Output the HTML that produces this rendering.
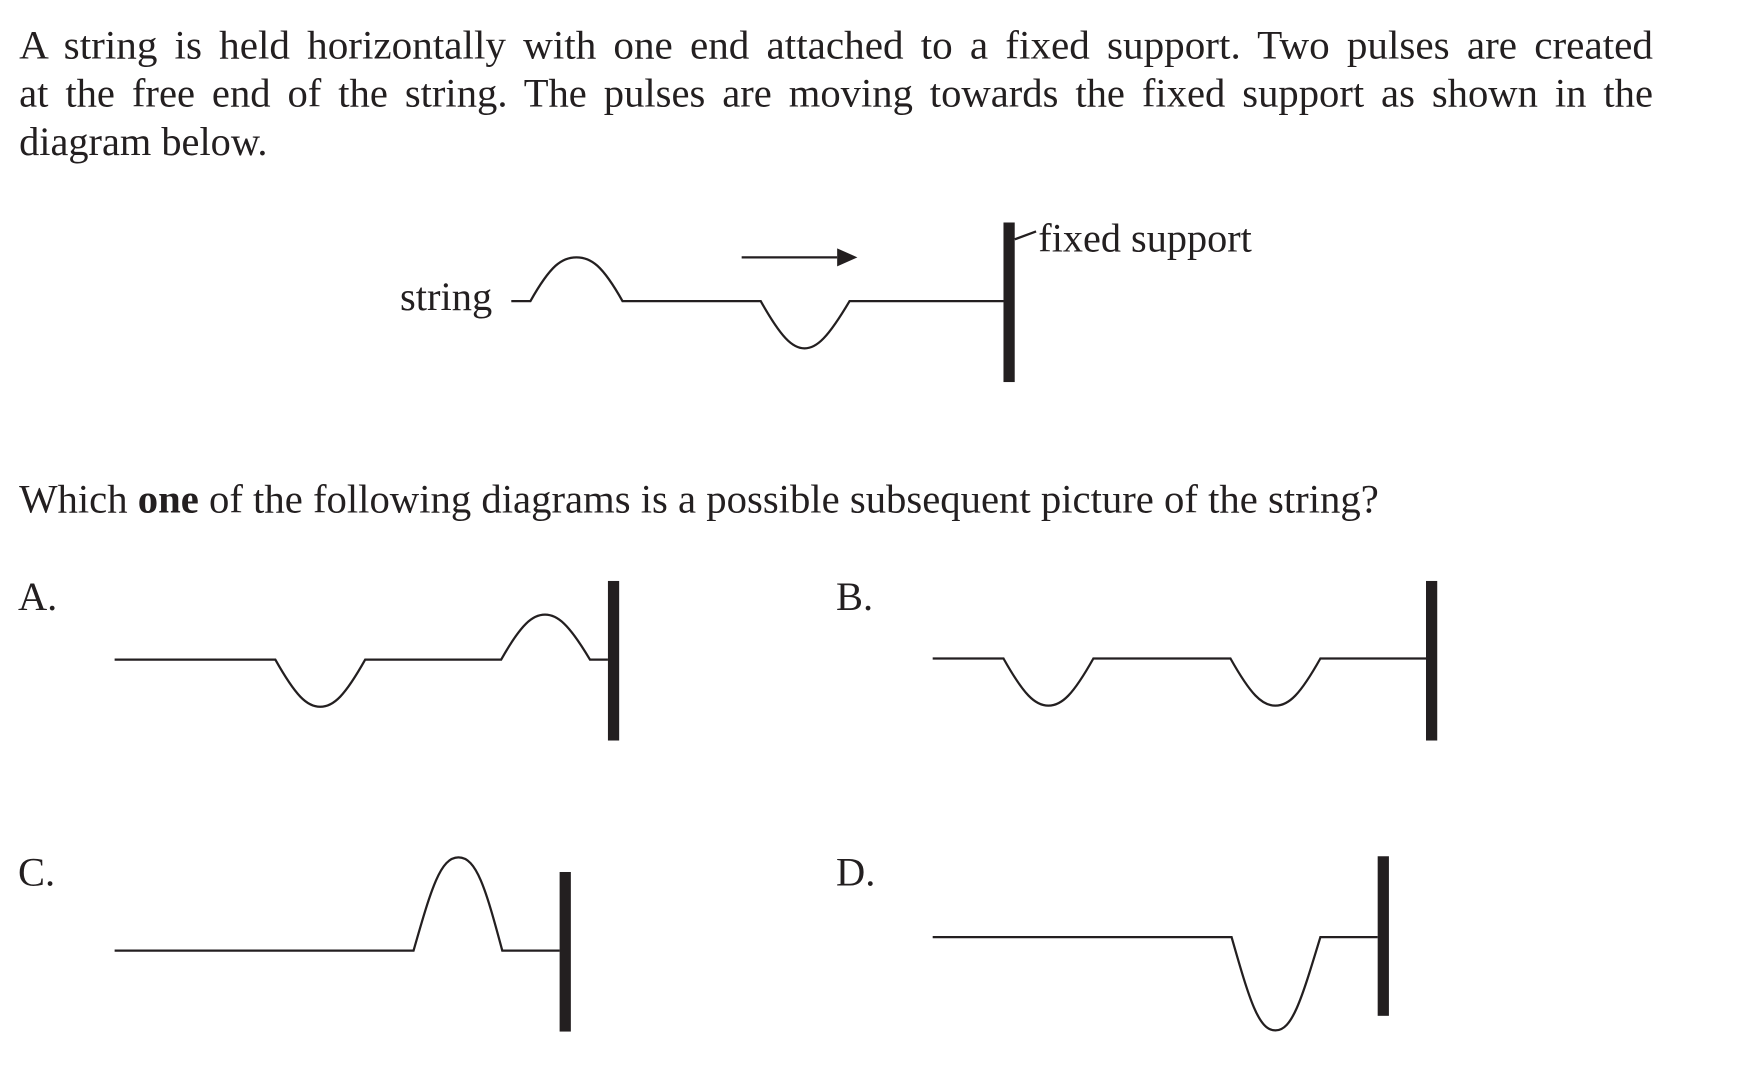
<!DOCTYPE html>
<html><head><meta charset="utf-8"><style>
html,body{margin:0;padding:0;background:#fff;}
svg{display:block;}
text{font-family:"Liberation Serif",serif;fill:#231f20;}
</style></head><body>
<svg width="1753" height="1081" viewBox="0 0 1560 962" preserveAspectRatio="none" xmlns="http://www.w3.org/2000/svg">
<g font-size="36">
<text x="17" y="52" textLength="1454" lengthAdjust="spacingAndGlyphs" word-spacing="6">A string is held horizontally with one end attached to a fixed support.  Two pulses are created</text>
<text x="17" y="95" textLength="1454" lengthAdjust="spacingAndGlyphs" word-spacing="6">at the free end of the string.  The pulses are moving towards the fixed support as shown in the</text>
<text x="17" y="138" textLength="221" lengthAdjust="spacingAndGlyphs">diagram below.</text>
<text x="356" y="276" textLength="82" lengthAdjust="spacingAndGlyphs">string</text>
<text x="924" y="224" textLength="190" lengthAdjust="spacingAndGlyphs">fixed support</text>
<text x="17" y="456" textLength="1210" lengthAdjust="spacingAndGlyphs">Which <tspan font-weight="bold">one</tspan> of the following diagrams is a possible subsequent picture of the string?</text>
<text x="16" y="543">A.</text>
<text x="744" y="543">B.</text>
<text x="16" y="788">C.</text>
<text x="744" y="788">D.</text>
</g>
<g fill="none" stroke="#231f20" stroke-width="2">
<path d="M455 268 H472 C490 236 500 229 513 229 C526 229 536 236 554 268 H677 C695 300 705 310 716 310 C727 310 737 300 756 268 H893"/>
<path d="M903 213 L922 206"/>
<path d="M660 229 H745"/>
<path d="M102 587 H245 C263 619 273 629 285 629 C297 629 307 619 325 587 H446 C464 555 474 547 485 547 C496 547 506 555 525 587 H541"/>
<path d="M830 586 H893 C911 618 921 628 933 628 C945 628 955 618 973 586 H1095 C1113 618 1123 628 1135 628 C1147 628 1157 618 1175 586 H1269"/>
<path d="M102 846 H368 C384 790 392 763 408 763 C424 763 432 790 447 846 H498"/>
<path d="M830 834 H1096 C1112 890 1120 917 1135 917 C1150 917 1158 890 1175 834 H1226"/>
</g>
<g fill="#231f20">
<polygon points="745,221 763,229 745,237"/>
<rect x="893" y="198" width="10" height="142"/>
<rect x="541" y="517" width="10" height="142"/>
<rect x="1269" y="517" width="10" height="142"/>
<rect x="498" y="776" width="10" height="142"/>
<rect x="1226" y="762" width="10" height="142"/>
</g>
</svg>
</body></html>
